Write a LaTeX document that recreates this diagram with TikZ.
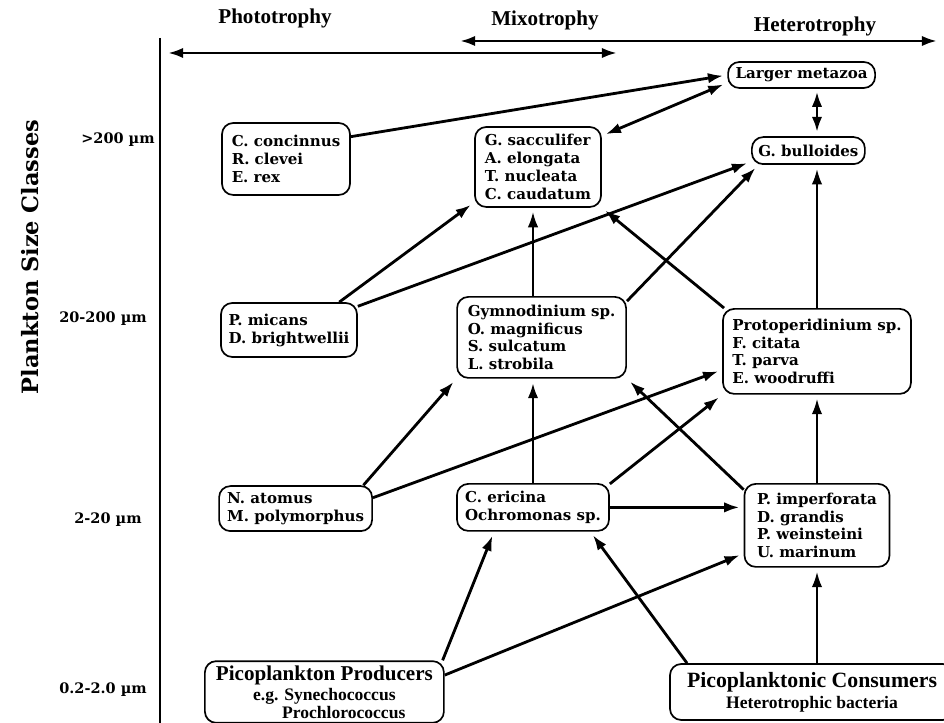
\documentclass[tikz,border=0pt]{standalone}
\usepackage{fontspec}
\setmainfont{DejaVu Serif}
\newfontfamily\trophyfont{Liberation Serif}
\usetikzlibrary{arrows.meta}

\begin{document}
\begin{tikzpicture}[
  >={Latex[length=3.8mm,width=2.6mm]},
  font=\bfseries\fontsize{10.7}{12.8}\selectfont,
  taxon/.style={draw,line width=1.2pt,rounded corners=8pt,align=left,inner sep=3pt},
  pico/.style={taxon,align=center,font=\trophyfont\bfseries\fontsize{12.5}{11}\selectfont},
  flow/.style={->,line width=2pt,shorten >=3pt},
  thinflow/.style={flow,line width=1.3pt},
  sizelbl/.style={font=\bfseries\fontsize{10.3}{12}\selectfont},
  trophy/.style={font=\trophyfont\bfseries\fontsize{15}{16}\selectfont},
]
\useasboundingbox (0,0) rectangle (23.6,18.075);

% --- size axis and trophic ranges ---
\coordinate (axtop) at (4.0,17.125);
\coordinate (axbot) at (4.0,0);
\draw[line width=1.4pt] (axtop) -- (axbot);
\node[rotate=90,font=\bfseries\fontsize{16}{18}\selectfont] (sizeaxis) at (0.75,11.65) {Plankton Size Classes};
\node[sizelbl] (s200)  at (2.95,14.575) {>200 µm};
\node[sizelbl] (s20)   at (2.575,10.10) {20-200 µm};
\node[sizelbl] (s2)    at (2.7,5.075)   {2-20 µm};
\node[sizelbl] (s02)   at (2.575,0.825) {0.2-2.0 µm};

\node[trophy] (photo) at (6.875,17.625)  {Phototrophy};
\node[trophy] (mixo)  at (13.625,17.575) {Mixotrophy};
\node[trophy] (hetero) at (20.375,17.425) {Heterotrophy};
\coordinate (photoL) at (4.2,16.75);
\coordinate (photoR) at (15.425,16.75);
\coordinate (heteroL) at (11.5,17.05);
\coordinate (heteroR) at (23.425,17.05);
\draw[flow,<->,shorten >=0pt] (photoL) -- (photoR);
\draw[flow,<->,shorten >=0pt] (heteroL) -- (heteroR);

% --- taxa ---
\node[taxon,minimum width=3.675cm,minimum height=0.65cm] (meta) at (20.04,16.20) {Larger metazoa};
\node[taxon,minimum width=2.825cm,minimum height=0.675cm] (bull) at (20.21,14.31) {G. bulloides};
\node[taxon,minimum width=3.2cm,minimum height=1.8cm] (conc) at (7.15,14.10) {C. concinnus\\R. clevei\\E. rex};
\node[taxon,minimum width=3.15cm,minimum height=2.0cm] (sacc) at (13.45,13.90) {G. sacculifer\\A. elongata\\T. nucleata\\C. caudatum};
\node[taxon,minimum width=3.4cm,minimum height=1.35cm] (mica) at (7.225,9.825) {P. micans\\D. brightwellii};
\node[taxon,minimum width=4.225cm,minimum height=2.025cm] (gymn) at (13.54,9.64) {Gymnodinium sp.\\O. magnificus\\S. sulcatum\\L. strobila};
\node[taxon,minimum width=4.7cm,minimum height=2.125cm] (prot) at (20.425,9.29) {Protoperidinium sp.\\F. citata\\T. parva\\E. woodruffi};
\node[taxon,minimum width=3.825cm,minimum height=1.125cm] (atom) at (7.39,5.36) {N. atomus\\M. polymorphus};
\node[taxon,minimum width=3.8cm,minimum height=1.175cm] (eric) at (13.325,5.39) {C. ericina\\Ochromonas sp.};
\node[taxon,minimum width=3.625cm,minimum height=2.075cm] (impf) at (20.425,4.94) {P. imperforata\\D. grandis\\P. weinsteini\\U. marinum};
\node[pico,minimum width=5.975cm,minimum height=1.4cm] (prod) at (8.11,0.775)
  {{\fontsize{15}{15}\selectfont Picoplankton Producers}\\[2pt]e.g. Synechococcus\\\hspace*{2.2em}Prochlorococcus};
\node[pico,minimum width=7.1cm,minimum height=1.4cm] (cons) at (20.3,0.775)
  {{\fontsize{15.5}{15.5}\selectfont Picoplanktonic Consumers}\\[2pt]Heterotrophic bacteria};

% --- feeding links ---
\draw[flow] (conc.19) -- (meta.west);
\draw[flow,<->,shorten <=3pt] (sacc.26) -- (meta.186);
\draw[flow,<->,shorten <=2pt] (meta.south -| prot.north) -- (bull.north -| prot.north);
\draw[flow] (mica.29) -- (sacc.209);
\draw[flow] (mica.19) -- (bull.191);
\draw[thinflow] (gymn.north -| eric.north) -- (sacc.south -| eric.north);
\draw[flow] (gymn.23) -- (bull.196);
\draw[flow] (prot.155) -- (sacc.south east);
\draw[thinflow] (prot.north) -- (bull.south -| prot.north);
\draw[flow] (atom.19) -- (gymn.south west);
\draw[flow] (atom.8) -- (prot.191);
\draw[flow] (eric.north) -- (gymn.south -| eric.north);
\draw[flow] (eric.17) -- (prot.south west);
\draw[flow] (eric.east) -- (eric.east -| impf.west);
\draw[flow] (impf.154) -- (gymn.south east);
\draw[thinflow] (impf.north) -- (prot.south);
\draw[flow] (prod.15) -- (eric.212);
\draw[flow] (prod.8) -- (impf.201);
\draw[flow] (cons.167) -- (eric.337);
\draw[thinflow] (cons.north -| impf.north) -- (impf.south);
\end{tikzpicture}
\end{document}
